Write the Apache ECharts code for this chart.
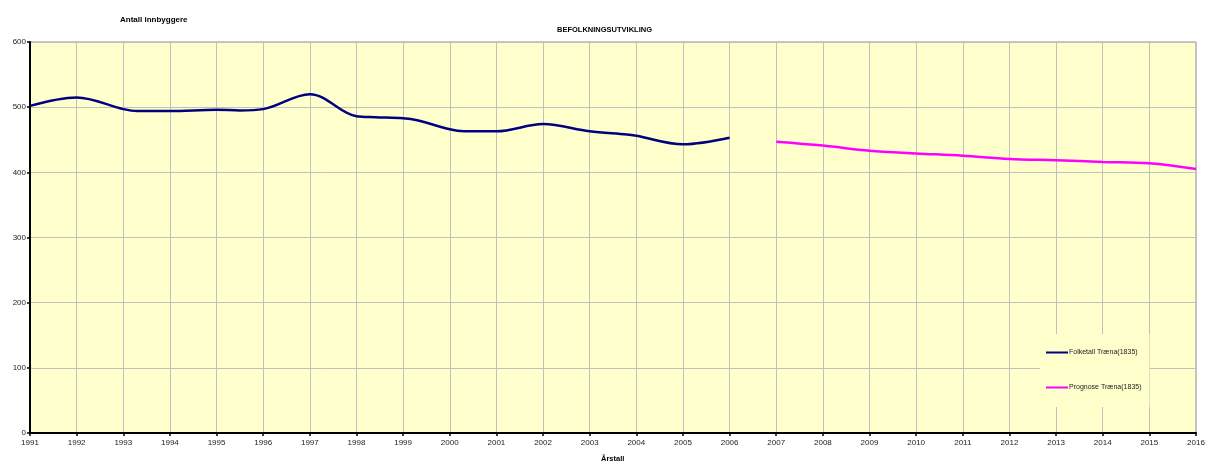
<!DOCTYPE html>
<html>
<head>
<meta charset="utf-8">
<script src="https://cdn.jsdelivr.net/npm/echarts@6/dist/echarts.min.js"></script>
<style>html,body{margin:0;padding:0;background:#fff}#c{width:1209px;height:461px}</style>
</head>
<body>
<div id="c"></div>
<script>
// Data
const blueYears  = [1991, 1992, 1993, 1993.3, 1994, 1995, 1995.5, 1996, 1997, 1998, 1998.4, 1999, 1999.3, 2000, 2000.3, 2001, 2002, 2003, 2003.8, 2004, 2005, 2006];
const blueValues = [502, 515, 497, 494, 494, 496, 495, 497, 520, 486, 484.5, 483, 480, 466, 463, 463, 474, 463, 458, 456, 443, 453];
const pinkYears  = [2007, 2008, 2009, 2010, 2011, 2012, 2013, 2014, 2015, 2016];
const pinkValues = [447, 441, 433, 429, 425.5, 420.5, 418.5, 416, 414, 405];
const seriesNames = ['Folketall Træna(1835)', 'Prognose Træna(1835)'];
const yTicks = [0, 100, 200, 300, 400, 500, 600];

const chart = echarts.init(document.getElementById('c'), null, {renderer: 'canvas'});
const font = 'Liberation Sans, Arial, sans-serif';
chart.setOption({
  animation: false,
  backgroundColor: '#ffffff',
  title: [
    {text: 'Antall innbyggere', left: 115, top: 11, textStyle: {fontSize: 8, fontWeight: 'bold', color: '#000', fontFamily: font}},
    {text: 'BEFOLKNINGSUTVIKLING', left: 552, top: 21, textStyle: {fontSize: 7.5, fontWeight: 'bold', color: '#000', fontFamily: font}},
    {text: 'Årstall', left: 596, top: 450, textStyle: {fontSize: 7.5, fontWeight: 'bold', color: '#000', fontFamily: font}}
  ],
  legend: {
    orient: 'vertical',
    left: 1040, top: 334,
    width: 110,
    padding: [15, 8, 16, 6],
    itemGap: 28,
    backgroundColor: '#FFFFCC',
    icon: 'rect',
    itemWidth: 22, itemHeight: 2,
    textStyle: {fontSize: 7, color: '#222', fontFamily: font, padding: [0, 0, 0, -4]},
    data: seriesNames
  },
  grid: {left: 30, right: 13, top: 42, bottom: 28, show: true, backgroundColor: '#FFFFCC', borderColor: '#909090', borderWidth: 1},
  xAxis: {
    type: 'value', min: 1991, max: 2016, interval: 1,
    axisLine: {show: true, onZero: false, lineStyle: {color: '#000', width: 2}},
    axisTick: {show: true, length: 3, lineStyle: {color: '#000', width: 1.5}},
    axisLabel: {fontSize: 8, color: '#222', fontFamily: font, margin: 6, formatter: v => String(v)},
    splitLine: {show: true, lineStyle: {color: '#C0C0C0', width: 1}}
  },
  yAxis: {
    type: 'value', min: yTicks[0], max: yTicks[yTicks.length - 1], interval: 100,
    axisLine: {show: true, lineStyle: {color: '#000', width: 2}},
    axisTick: {show: true, length: 3, lineStyle: {color: '#000', width: 1.5}},
    axisLabel: {fontSize: 8, color: '#222', fontFamily: font, margin: 4},
    splitLine: {show: true, lineStyle: {color: '#C0C0C0', width: 1}}
  },
  series: [
    {name: seriesNames[0], type: 'line', smooth: 0.35, showSymbol: false, symbol: 'none',
     data: blueYears.map((y, i) => [y, blueValues[i]]),
     lineStyle: {color: '#000080', width: 2.5}, itemStyle: {color: '#000080'}, z: 3},
    {name: seriesNames[1], type: 'line', smooth: 0.35, showSymbol: false, symbol: 'none',
     data: pinkYears.map((y, i) => [y, pinkValues[i]]),
     lineStyle: {color: '#FF00FF', width: 2.5}, itemStyle: {color: '#FF00FF'}, z: 3}
  ]
});
</script>
</body>
</html>
